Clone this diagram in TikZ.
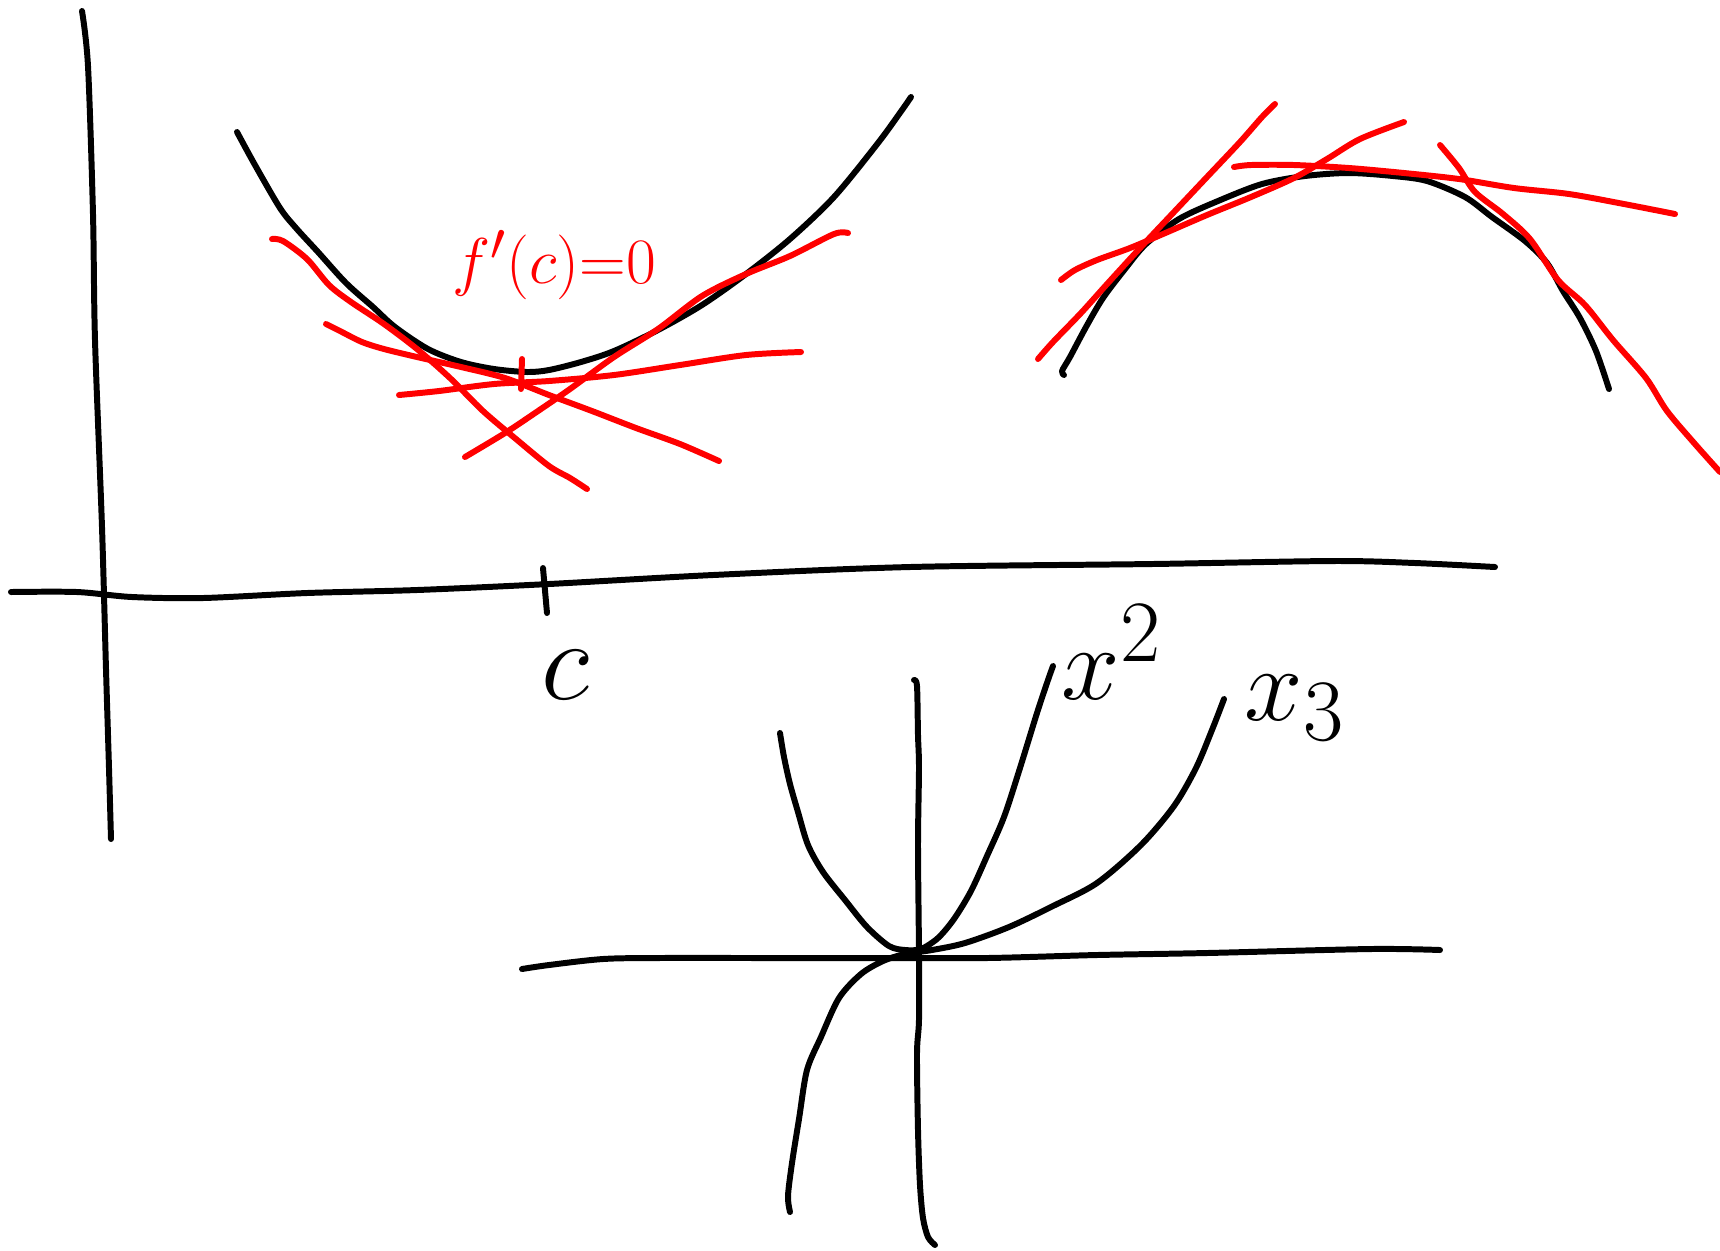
\documentclass[tikz,border=0pt]{standalone}

\begin{document}
\begin{tikzpicture}[x=0.01cm,y=-0.01cm,
    ink/.style={line width=1.7pt,line cap=round,line join=round},
    redink/.style={ink,red},
    handtext/.style={inner sep=0pt,font=\Huge,scale=#1,transform shape}]
        \useasboundingbox (0,0) rectangle (1720,1250);
        % left axes
        \draw[ink] plot[smooth] coordinates {(82,11) (88,66) (93,214) (95,340) (102,527) (106,669) (109,768) (111,839)};
        \draw[ink] plot[smooth] coordinates {(11,592) (77,592) (132,597) (203,598) (307,593) (417,590) (549,584) (713,575) (910,567) (1152,564) (1333,561) (1415,563) (1495,567)};
        \draw[ink] (543,568) -- (547,613);
        \node[handtext=1.3] (c) at (565,675) {$c$};
        % convex curve and its tangents
        \draw[ink] plot[smooth] coordinates {(237,132) (255,165) (280,208) (296,228) (318,252) (346,283) (373,307) (395,327) (428,349) (461,362) (494,369) (527,372) (549,370) (581,362) (614,351) (658,330) (702,305) (746,274) (790,239) (834,197) (878,143) (902,110) (911,97)};
        \draw[redink] plot[smooth] coordinates {(272,239) (283,241) (307,259) (329,285) (351,302) (384,324) (417,349) (450,378) (483,411) (516,439) (549,466) (570,478) (587,489)};
        \draw[redink] plot[smooth] coordinates {(326,324) (340,331) (362,342) (384,349) (417,357) (461,367) (505,378) (549,395) (592,411) (636,428) (680,444) (719,461)};
        \draw[redink] plot[smooth] coordinates {(399,395) (439,391) (494,384) (549,381) (614,375) (680,365) (746,355) (801,352)};
        \draw[redink] plot[smooth] coordinates {(465,457) (505,433) (538,411) (570,389) (614,357) (658,329) (702,296) (746,274) (790,256) (834,234) (848,233)};
        \draw[redink] (522,359) -- (521,389);
        \node[handtext=0.74,red] (fc) at (554,265) {$f'(c){=}0$};
        % concave curve and its tangents
        \draw[ink] plot[smooth] coordinates {(1064,375) (1062,371) (1070,357) (1086,327) (1103,298) (1125,269) (1146,244) (1179,219) (1218,201) (1262,184) (1305,176) (1349,173) (1393,176) (1427,181) (1465,197) (1492,217) (1525,241) (1547,263) (1563,291) (1580,318) (1596,351) (1609,389)};
        \draw[redink] plot[smooth] coordinates {(1038,359) (1053,342) (1081,313) (1108,283) (1141,247) (1174,212) (1207,177) (1240,142) (1262,117) (1275,104)};
        \draw[redink] plot[smooth] coordinates {(1061,280) (1075,270) (1097,260) (1130,248) (1163,234) (1207,215) (1251,197) (1294,178) (1327,159) (1360,139) (1404,122)};
        \draw[redink] plot[smooth] coordinates {(1234,167) (1251,165) (1294,165) (1349,168) (1404,173) (1459,179) (1514,188) (1569,194) (1624,204) (1675,214)};
        \draw[redink] plot[smooth] coordinates {(1440,145) (1459,168) (1475,192) (1503,214) (1530,239) (1558,280) (1585,305) (1613,340) (1646,378) (1667,411) (1695,444) (1720,472)};
        % bottom axes with x^2 and x^3
        \draw[ink] plot[smooth] coordinates {(522,969) (549,965) (603,959) (658,958) (768,958) (878,958) (987,958) (1097,955) (1207,953) (1371,949) (1440,950)};
        \draw[ink] plot[smooth] coordinates {(914,680) (917,686) (918,735) (919,768) (918,845) (919,954) (919,1020) (917,1053) (918,1130) (920,1185) (923,1218) (928,1237) (935,1245)};
        \draw[ink] plot[smooth] coordinates {(780,733) (784,757) (790,784) (798,812) (808,845) (823,872) (845,900) (867,927) (889,946) (905,950) (921,949) (938,938) (954,919) (971,891) (987,856) (1004,817) (1020,768) (1037,713) (1048,680) (1053,666)};
        \draw[ink] plot[smooth] coordinates {(790,1212) (788,1196) (792,1163) (799,1119) (807,1070) (821,1037) (839,998) (861,974) (883,961) (905,954) (932,950) (965,943) (1009,927) (1053,906) (1097,883) (1141,845) (1174,806) (1196,768) (1212,730) (1224,699)};
        \node[handtext=1.2] (sq) at (1112,652) {$x^2$};
        \node[handtext=1.2] (cube) at (1295,708) {$x_3$};
    \end{tikzpicture}
\end{document}
